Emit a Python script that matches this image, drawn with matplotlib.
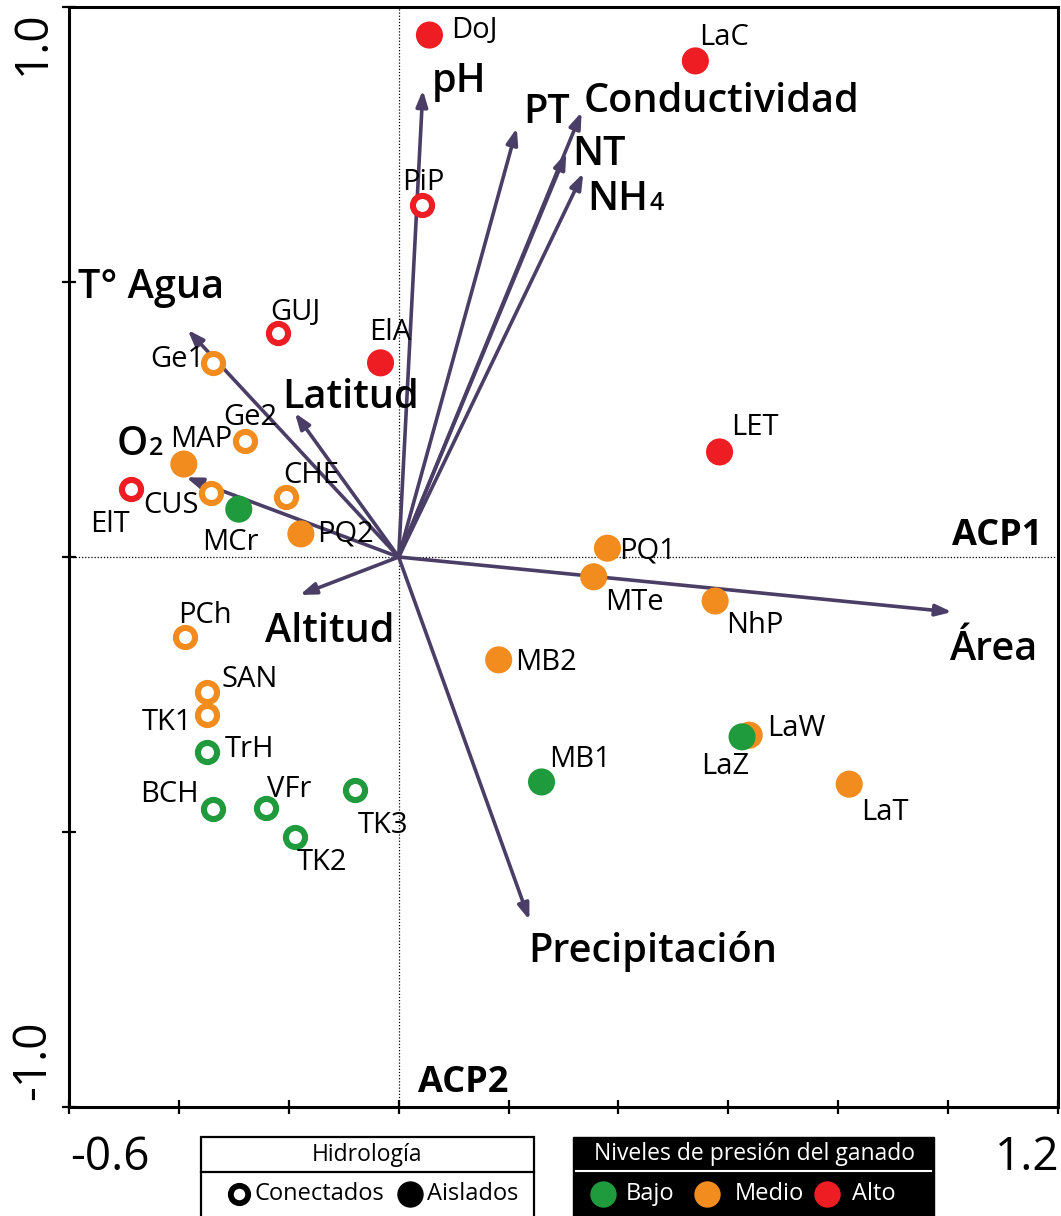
import matplotlib
matplotlib.use("Agg")
import matplotlib.pyplot as plt
from matplotlib.patches import Rectangle
from matplotlib.lines import Line2D

# ---------------- data ----------------
sites = ["DoJ", "LaC", "PiP", "GUJ", "ElA", "LET", "ElT", "Ge1", "Ge2", "MAP",
         "CUS", "CHE", "MCr", "PQ2", "PQ1", "MTe", "NhP", "PCh", "MB2", "SAN",
         "TK1", "TrH", "LaW", "LaZ", "MB1", "LaT", "TK3", "BCH", "VFr", "TK2"]
acp1 = [0.056, 0.540, 0.042, -0.220, -0.033, 0.584, -0.487, -0.338, -0.280, -0.391,
        -0.342, -0.205, -0.291, -0.178, 0.380, 0.355, 0.576, -0.389, 0.182, -0.349,
        -0.349, -0.349, 0.638, 0.625, 0.260, 0.820, -0.080, -0.338, -0.242, -0.189]
acp2 = [0.949, 0.902, 0.640, 0.407, 0.353, 0.191, 0.124, 0.353, 0.211, 0.169,
        0.116, 0.109, 0.087, 0.042, 0.016, -0.036, -0.080, -0.145, -0.187, -0.245,
        -0.287, -0.355, -0.324, -0.327, -0.409, -0.413, -0.424, -0.458, -0.456, -0.509]
presion = ["Alto", "Alto", "Alto", "Alto", "Alto", "Alto", "Alto", "Medio", "Medio", "Medio",
           "Medio", "Medio", "Bajo", "Medio", "Medio", "Medio", "Medio", "Medio", "Medio", "Medio",
           "Medio", "Bajo", "Medio", "Bajo", "Bajo", "Medio", "Bajo", "Bajo", "Bajo", "Bajo"]
hidrologia = ["Aislados", "Aislados", "Conectados", "Conectados", "Aislados", "Aislados", "Conectados",
              "Conectados", "Conectados", "Aislados", "Conectados", "Conectados", "Aislados", "Aislados",
              "Aislados", "Aislados", "Aislados", "Conectados", "Aislados", "Conectados", "Conectados",
              "Conectados", "Aislados", "Aislados", "Aislados", "Aislados", "Conectados", "Conectados",
              "Conectados", "Conectados"]

variables = ["pH", "PT", "Conductividad", "NT", "NH4", "T° Agua", "Latitud", "O2",
             "Altitud", "Área", "Precipitación"]
load1 = [0.044, 0.215, 0.333, 0.305, 0.336, -0.384, -0.189, -0.387, -0.180, 1.007, 0.238]
load2 = [0.849, 0.780, 0.809, 0.735, 0.698, 0.413, 0.262, 0.145, -0.069, -0.100, -0.660]

x_ticks = [-0.6, -0.4, -0.2, 0.0, 0.2, 0.4, 0.6, 0.8, 1.0, 1.2]
y_ticks = [-1.0, -0.5, 0.0, 0.5, 1.0]

# ---------------- layout / style ----------------
W, H, DPI = 1061, 1216, 100
FONT = ["Open Sans", "DejaVu Sans"]
COL = {"Bajo": "#1f9a3c", "Medio": "#f28c1e", "Alto": "#ee1d23"}
ARROW = "#4a3e66"

# label offsets (pixels, left/baseline relative to point)
site_off = {"DoJ": (22, -3), "LaC": (4, 16), "PiP": (-20, 15), "GUJ": (-8, 13), "ElA": (-11, 23),
            "LET": (12, 17), "ElT": (-41, -43), "Ge1": (-63, -4), "Ge2": (-22, 16), "MAP": (-14, 17),
            "CUS": (-68, -20), "CHE": (-3, 14), "MCr": (-37, -41), "PQ2": (16, -8), "PQ1": (12, -10),
            "MTe": (11, -33), "NhP": (11, -32), "PCh": (-7, 14), "MB2": (16, -10), "SAN": (15, 5),
            "TK1": (-65, -15), "TrH": (18, -5), "LaW": (18, -1), "LaZ": (-41, -37), "MB1": (8, 15),
            "LaT": (12, -36), "TK3": (3, -43), "BCH": (-73, 7), "VFr": (1, 11), "TK2": (2, -33)}
var_off = {"pH": (9, -2), "PT": (6, 5), "Conductividad": (2, 0), "NT": (6, -12), "NH4": (4, -37),
           "T° Agua": (-110, 32), "Latitud": (-13, 5), "O2": (-69, 22), "Altitud": (-35, -47),
           "Área": (-3, -48), "Precipitación": (-1, -42)}

fig = plt.figure(figsize=(W / DPI, H / DPI), dpi=DPI)
ax = fig.add_axes([69 / W, (H - 1107) / H, (1058 - 69) / W, (1107 - 7) / H])
ax.set_xlim(-0.6, 1.2)
ax.set_ylim(-1.0, 1.0)

for s in ax.spines.values():
    s.set_linewidth(2.2)
ax.set_xticks(x_ticks)
ax.set_yticks(y_ticks)
ax.tick_params(direction="inout", length=10, width=1.6, labelbottom=False, labelleft=False)

ax.axvline(0, color="black", lw=0.9, ls=(0, (1, 1.5)), zorder=1)
ax.axhline(0, color="black", lw=0.9, ls=(0, (1, 1.5)), zorder=1)

# arrows
for v, a, b in zip(variables, load1, load2):
    ax.annotate("", xy=(a, b), xytext=(0, 0),
                arrowprops=dict(arrowstyle="-|>,head_length=0.95,head_width=0.34",
                                lw=2.6, color=ARROW, shrinkA=0, shrinkB=0), zorder=2)

# points
for name, x, y, p, h in zip(sites, acp1, acp2, presion, hidrologia):
    c = COL[p]
    if h == "Conectados":
        ax.scatter([x], [y], s=190, facecolors="white", edgecolors=c, linewidths=4.4, zorder=3)
    else:
        ax.scatter([x], [y], s=380, color=c, edgecolors="none", zorder=3)
    dx, dy = site_off[name]
    ax.annotate(name, xy=(x, y), xytext=(dx, dy), textcoords="offset pixels",
                ha="left", va="baseline", fontsize=21, family=FONT, zorder=4)

# variable labels
sub_texts = []
for v, a, b in zip(variables, load1, load2):
    dx, dy = var_off[v]
    main, sub = v, None
    if v == "NH4":
        main, sub = "NH", "4"
    elif v == "O2":
        main, sub = "O", "2"
    t = ax.annotate(main, xy=(a, b), xytext=(dx, dy), textcoords="offset pixels",
                    ha="left", va="baseline", fontsize=28.5, fontweight="semibold",
                    family=FONT, zorder=4)
    if sub:
        sub_texts.append((t, sub, a, b, dx, dy))

fig.canvas.draw()
rend = fig.canvas.get_renderer()
for t, sub, a, b, dx, dy in sub_texts:
    bb = t.get_window_extent(rend)
    tip = ax.transData.transform((a, b))
    ax.annotate(sub, xy=(a, b), xytext=(bb.x1 - tip[0] + 1, dy), textcoords="offset pixels",
                ha="left", va="baseline", fontsize=18, fontweight="semibold", family=FONT, zorder=4)

# axis names
ax.text(1.007, 0.022, "ACP1", ha="left", va="baseline", fontsize=26, fontweight="bold",
        family=FONT)
ax.text(0.035, -0.973, "ACP2", ha="left", va="baseline", fontsize=26, fontweight="bold",
        family=FONT)


def fx(px):
    return px / W


def fy(py):
    return 1 - py / H


# tick labels at the ends
fig.text(fx(110), fy(1158), "-0.6", ha="center", va="center", fontsize=33, family=FONT)
fig.text(fx(1027), fy(1158), "1.2", ha="center", va="center", fontsize=33, family=FONT)
fig.text(fx(33), fy(43), "1.0", ha="center", va="center", rotation=90, fontsize=33, family=FONT)
fig.text(fx(33), fy(1060), "-1.0", ha="center", va="center", rotation=90, fontsize=33, family=FONT)

# legend 1: Hidrología
fig.add_artist(Rectangle((fx(201), fy(1240)), fx(534) - fx(201), fy(1137) - fy(1240),
                         transform=fig.transFigure, facecolor="white", edgecolor="black", lw=1.6))
fig.add_artist(Line2D([fx(201), fx(534)], [fy(1172), fy(1172)], transform=fig.transFigure,
                      color="black", lw=1.6))
fig.text(fx(367), fy(1155), "Hidrología", ha="center", va="center", fontsize=16.5, family=FONT)
fig.add_artist(Line2D([fx(239)], [fy(1194)], transform=fig.transFigure, marker="o", ms=12.5,
                      mfc="white", mec="black", mew=4.2, ls="none"))
fig.text(fx(255), fy(1194), "Conectados", ha="left", va="center", fontsize=17, family=FONT)
fig.add_artist(Line2D([fx(410)], [fy(1194)], transform=fig.transFigure, marker="o", ms=18,
                      mfc="black", mec="black", ls="none"))
fig.text(fx(427), fy(1194), "Aislados", ha="left", va="center", fontsize=17, family=FONT)

# legend 2: Niveles de presión del ganado
fig.add_artist(Rectangle((fx(573), fy(1240)), fx(934) - fx(573), fy(1137) - fy(1240),
                         transform=fig.transFigure, facecolor="black", edgecolor="black", lw=1))
fig.add_artist(Line2D([fx(576), fx(931)], [fy(1171), fy(1171)], transform=fig.transFigure,
                      color="white", lw=1.5))
fig.text(fx(755), fy(1154), "Niveles de presión del ganado", ha="center", va="center",
         fontsize=16.5, family=FONT, color="white")
for lab, cx, tx in [("Bajo", 603, 626), ("Medio", 707, 735), ("Alto", 827, 852)]:
    fig.add_artist(Line2D([fx(cx)], [fy(1194)], transform=fig.transFigure, marker="o", ms=19,
                          mfc=COL[lab], mec="none", ls="none"))
    fig.text(fx(tx), fy(1194), lab, ha="left", va="center", fontsize=17, family=FONT,
             color="white")

fig.savefig("out.png", dpi=DPI)
